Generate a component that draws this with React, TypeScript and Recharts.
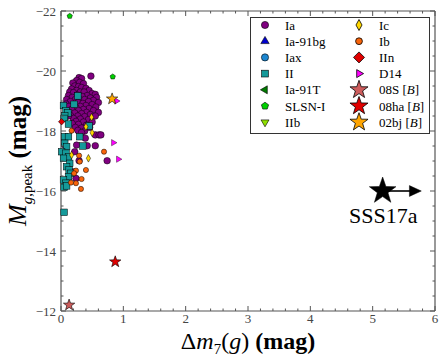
import { ScatterChart, Scatter, XAxis, YAxis, ReferenceLine, ReferenceDot } from 'recharts'

const W = 443
const H = 359
const MARGIN = { top: 11, right: 8, bottom: 0, left: 0 }
const Y_AXIS_W = 61
const X_AXIS_H = 48
const PLOT = { left: Y_AXIS_W, right: W - MARGIN.right, top: MARGIN.top, bottom: H - X_AXIS_H }

const SERIF = '"Liberation Serif", "DejaVu Serif", serif'
const FRAME = '#555'

// axis ticks
const xMajor = [0, 1, 2, 3, 4, 5, 6]
const yMajor = [-22, -20, -18, -16, -14, -12]
const xTicks = Array.from({ length: 31 }, (_, i) => +(i * 0.2).toFixed(1))
const yTicks = Array.from({ length: 21 }, (_, i) => -22 + i * 0.5)

type Pt = [number, number]

// SNe Ia
const iaPts: Pt[] = [
  [0.48, -19.83], [0.29, -19.78], [0.33, -19.75], [0.25, -19.68], [0.19, -19.6], [0.3, -19.62],
  [0.36, -19.58], [0.22, -19.5], [0.28, -19.48], [0.33, -19.45], [0.4, -19.42], [0.17, -19.4],
  [0.45, -19.35], [0.25, -19.35], [0.14, -19.3], [0.2, -19.28], [0.31, -19.3], [0.37, -19.3],
  [0.5, -19.25], [0.55, -19.22], [0.12, -19.18], [0.26, -19.2], [0.42, -19.18], [0.34, -19.15],
  [0.18, -19.12], [0.47, -19.1], [0.57, -19.12], [0.09, -19.05], [0.23, -19.05], [0.3, -19.05],
  [0.38, -19.05], [0.52, -19.02], [0.15, -18.98], [0.44, -18.98], [0.27, -18.95], [0.35, -18.92],
  [0.6, -18.95], [0.08, -18.9], [0.2, -18.88], [0.5, -18.88], [0.4, -18.85], [0.13, -18.82],
  [0.31, -18.82], [0.56, -18.8], [0.24, -18.78], [0.45, -18.75], [0.36, -18.72], [0.17, -18.72],
  [0.28, -18.68], [0.52, -18.68], [0.1, -18.65], [0.41, -18.62], [0.6, -18.62], [0.22, -18.6],
  [0.33, -18.58], [0.47, -18.55], [0.15, -18.52], [0.27, -18.5], [0.38, -18.48], [0.55, -18.5],
  [0.2, -18.42], [0.31, -18.4], [0.44, -18.38], [0.24, -18.32], [0.36, -18.3], [0.5, -18.3],
  [0.18, -18.25], [0.28, -18.22], [0.41, -18.2], [0.23, -18.12], [0.33, -18.1], [0.46, -18.12],
  [0.27, -18.02], [0.38, -18.0], [0.33, -17.95], [0.55, -17.87], [0.61, -17.87], [0.64, -17.87],
  [0.39, -17.76], [0.42, -17.51], [0.55, -17.51], [0.25, -17.53], [0.06, -17.53], [0.22, -17.31],
  [0.29, -17.01], [0.74, -17.01], [0.19, -16.64], [0.24, -16.42], [0.12, -18.5],
]

// SNe II
const iiPts: Pt[] = [
  [0.27, -19.17], [0.21, -18.89], [0.04, -18.85], [0.08, -18.67], [0.11, -18.6], [0.06, -18.5],
  [0.05, -18.42], [0.12, -18.23], [0.45, -18.17], [0.06, -17.81], [0.12, -17.81], [0.3, -17.81],
  [0.35, -17.5], [0.06, -17.59], [0.09, -17.48], [0.01, -17.31], [0.08, -17.26], [0.12, -17.14],
  [0.04, -17.09], [0.14, -16.92], [0.09, -16.81], [0.13, -16.7], [0.16, -16.59], [0.12, -16.48],
  [0.04, -16.37], [0.08, -16.26], [0.05, -16.12], [0.09, -16.17], [0.05, -15.29],
]

// SNe Ib
const ibPts: Pt[] = [
  [0.17, -18.01], [0.69, -17.31], [0.29, -17.18], [0.3, -16.98], [0.4, -16.7], [0.24, -16.68],
  [0.21, -16.59], [0.33, -16.4], [0.24, -16.26], [0.16, -16.28], [0.32, -16.07],
]

// SNe Ic
const icPts: Pt[] = [[0.49, -18.46], [0.4, -18.14], [0.5, -17.94], [0.44, -17.09], [0.17, -17.2]]

const iinPts: Pt[] = [[0.01, -18.31]]
const d14Pts: Pt[] = [[0.89, -19.0], [0.84, -17.61], [0.92, -17.06]]
const slsnPts: Pt[] = [[0.14, -21.83], [0.83, -19.81]]

const sn08S: Pt[] = [[0.13, -12.2]]
const sn08ha: Pt[] = [[0.87, -13.64]]
const sn02bj: Pt[] = [[0.82, -19.07]]

const sss17a: Pt[] = [[5.16, -16.0]]
const sss17aLimit: Pt[] = [[5.78, -16.0]]
const sss17aLabel: Pt = [5.17, -15.2]

const toXY = (pts: Pt[]) => pts.map(([x, y]) => ({ x, y }))

const UNIT: Record<string, number[][]> = {
  up: [[0, -1], [0.87, 0.5], [-0.87, 0.5]],
  down: [[0, 1], [0.87, -0.5], [-0.87, -0.5]],
  left: [[-1, 0], [0.5, -0.87], [0.5, 0.87]],
  right: [[1, 0], [-0.5, -0.87], [-0.5, 0.87]],
  thin: [[0, -1], [0.55, 0], [0, 1], [-0.55, 0]],
  diamond: [[0, -1], [1, 0], [0, 1], [-1, 0]],
  pentagon: [0, 1, 2, 3, 4].map((k) => {
    const a = ((-90 + 72 * k) * Math.PI) / 180
    return [Math.cos(a), Math.sin(a)]
  }),
  star: Array.from({ length: 10 }, (_, k) => {
    const a = ((-90 + 36 * k) * Math.PI) / 180
    const r = k % 2 === 0 ? 1 : 0.4
    return [r * Math.cos(a), r * Math.sin(a)]
  }),
  arrow: [[0, 0], [-2.2, -1], [-2.2, 1]],
}

function Glyph({ kind, cx, cy, s, fill, sw = 0.6 }: { kind: string; cx: number; cy: number; s: number; fill: string; sw?: number }) {
  if (kind === 'circle') return <circle cx={cx} cy={cy} r={s} fill={fill} stroke="#000" strokeWidth={sw} />
  if (kind === 'square')
    return <rect x={cx - s} y={cy - s} width={2 * s} height={2 * s} fill={fill} stroke="#000" strokeWidth={sw} />
  const pts = UNIT[kind].map(([u, v]) => `${cx + u * s},${cy + v * s}`).join(' ')
  return <polygon points={pts} fill={fill} stroke="#000" strokeWidth={sw} strokeLinejoin="miter" />
}

const shape = (kind: string, s: number, fill: string, sw?: number) => (p: any) =>
  <Glyph kind={kind} cx={p.cx} cy={p.cy} s={s} fill={fill} sw={sw} />

function XTick(props: any) {
  const { x, y, payload } = props
  const v = payload.value
  const major = xMajor.some((m) => Math.abs(m - v) < 1e-6)
  const len = major ? 5 : 2.5
  return (
    <g>
      <line x1={x} x2={x} y1={PLOT.bottom} y2={PLOT.bottom - len} stroke={FRAME} strokeWidth={1} />
      <line x1={x} x2={x} y1={PLOT.top} y2={PLOT.top + len} stroke={FRAME} strokeWidth={1} />
      {major && (
        <text x={x} y={y} dy={8} textAnchor="middle" fontFamily={SERIF} fontSize={13} fill="#444">
          {v}
        </text>
      )}
    </g>
  )
}

function YTick(props: any) {
  const { x, y, payload } = props
  const v = payload.value
  const major = yMajor.some((m) => Math.abs(m - v) < 1e-6)
  const len = major ? 5 : 2.5
  return (
    <g>
      <line x1={PLOT.left} x2={PLOT.left + len} y1={y} y2={y} stroke={FRAME} strokeWidth={1} />
      <line x1={PLOT.right} x2={PLOT.right - len} y1={y} y2={y} stroke={FRAME} strokeWidth={1} />
      {major && (
        <text x={x} y={y} dy={4.5} textAnchor="end" fontFamily={SERIF} fontSize={13} fill="#444">
          {'\u2212' + Math.abs(v)}
        </text>
      )}
    </g>
  )
}

const legendLeft = [
  { label: 'Ia', kind: 'circle', s: 3.6, fill: '#800080' },
  { label: 'Ia-91bg', kind: 'up', s: 4.8, fill: '#0000cd' },
  { label: 'Iax', kind: 'circle', s: 3.6, fill: '#1c86d0' },
  { label: 'II', kind: 'square', s: 3.4, fill: '#159a9a' },
  { label: 'Ia-91T', kind: 'left', s: 4.6, fill: '#007a00' },
  { label: 'SLSN-I', kind: 'pentagon', s: 3.8, fill: '#00d000' },
  { label: 'IIb', kind: 'down', s: 4.6, fill: '#8fe000' },
]
const legendRight = [
  { label: 'Ic', kind: 'thin', s: 5.5, fill: '#ffd700' },
  { label: 'Ib', kind: 'circle', s: 3.4, fill: '#f8640a' },
  { label: 'IIn', kind: 'diamond', s: 5.5, fill: '#e00000' },
  { label: 'D14', kind: 'right', s: 4.6, fill: '#ff00ff' },
  { label: '08S', kind: 'star', s: 9.5, fill: '#cd5c5c', b: true },
  { label: '08ha', kind: 'star', s: 9.5, fill: '#e00000', b: true },
  { label: '02bj', kind: 'star', s: 9.5, fill: '#ffa500', b: true },
]

function Overlay() {
  const rowY = (i: number) => 25 + i * 16.2
  return (
    <svg width={W} height={H} style={{ position: 'absolute', left: 0, top: 0, pointerEvents: 'none' }}>
      {/* legend */}
      <rect x={250.5} y={17.5} width={179} height={116} fill="#fff" stroke="#333" strokeWidth={1} />
      {legendLeft.map((e, i) => (
        <g key={e.label}>
          <Glyph kind={e.kind} cx={265} cy={rowY(i)} s={e.s} fill={e.fill} />
          <text x={285} y={rowY(i)} dy={4.5} fontFamily={SERIF} fontSize={13} fill="#000">{e.label}</text>
        </g>
      ))}
      {legendRight.map((e, i) => (
        <g key={e.label}>
          <Glyph kind={e.kind} cx={359} cy={rowY(i)} s={e.s} fill={e.fill} sw={0.8} />
          <text x={379} y={rowY(i)} dy={4.5} fontFamily={SERIF} fontSize={13} fill="#000">
            {e.label}
            {e.b && (
              <>
                {' ['}
                <tspan fontStyle="italic">B</tspan>
                {']'}
              </>
            )}
          </text>
        </g>
      ))}

      {/* axis titles */}
      <text transform="translate(26,161) rotate(-90)" textAnchor="middle" fontFamily={SERIF} fill="#000">
        <tspan fontSize={26} fontStyle="italic">M</tspan>
        <tspan fontSize={15} dy={6}>
          <tspan fontStyle="italic">g</tspan>,peak
        </tspan>
        <tspan fontSize={25} fontWeight="bold" dy={-6}> (mag)</tspan>
      </text>
      <text x={248} y={349} textAnchor="middle" fontFamily={SERIF} fill="#000">
        <tspan fontSize={24}>Δ</tspan>
        <tspan fontSize={24} fontStyle="italic">m</tspan>
        <tspan fontSize={15} dy={5}>7</tspan>
        <tspan fontSize={24} dy={-5}>(</tspan>
        <tspan fontSize={24} fontStyle="italic">g</tspan>
        <tspan fontSize={24}>)</tspan>
        <tspan fontSize={24} fontWeight="bold"> (mag)</tspan>
      </text>
    </svg>
  )
}

export default function App() {
  return (
    <div style={{ position: 'absolute', left: 0, top: 0, width: W, height: H, background: '#fff' }}>
      <ScatterChart width={W} height={H} margin={MARGIN}>
        <XAxis
          type="number"
          dataKey="x"
          domain={[0, 6]}
          ticks={xTicks}
          interval={0}
          tickSize={0}
          tickMargin={4}
          height={X_AXIS_H}
          tick={XTick}
          axisLine={{ stroke: FRAME, strokeWidth: 1.2 }}
        />
        <YAxis
          type="number"
          dataKey="y"
          domain={[-22, -12]}
          reversed
          ticks={yTicks}
          interval={0}
          tickSize={0}
          tickMargin={5}
          width={Y_AXIS_W}
          tick={YTick}
          axisLine={{ stroke: FRAME, strokeWidth: 1.2 }}
        />
        <ReferenceLine y={-22} stroke={FRAME} strokeWidth={1.2} />
        <ReferenceLine x={6} stroke={FRAME} strokeWidth={1.2} />
        <ReferenceLine
          segment={[{ x: sss17a[0][0], y: sss17a[0][1] }, { x: sss17aLimit[0][0] - 0.15, y: sss17aLimit[0][1] }]}
          stroke="#000"
          strokeWidth={1.6}
        />

        <Scatter data={toXY(iaPts)} shape={shape('circle', 3.3, '#800080', 0.5)} isAnimationActive={false} />
        <Scatter data={toXY(iiPts)} shape={shape('square', 3.3, '#159a9a', 0.5)} isAnimationActive={false} />
        <Scatter data={toXY(ibPts)} shape={shape('circle', 2.6, '#f8640a', 0.5)} isAnimationActive={false} />
        <Scatter data={toXY(icPts)} shape={shape('thin', 3.8, '#ffd700', 0.5)} isAnimationActive={false} />
        <Scatter data={toXY(iinPts)} shape={shape('diamond', 3.2, '#e00000', 0.5)} isAnimationActive={false} />
        <Scatter data={toXY(d14Pts)} shape={shape('right', 3.6, '#ff00ff', 0.4)} isAnimationActive={false} />
        <Scatter data={toXY(slsnPts)} shape={shape('pentagon', 2.8, '#00d000', 0.5)} isAnimationActive={false} />
        <Scatter data={toXY(sn08S)} shape={shape('star', 6, '#cd5c5c', 0.6)} isAnimationActive={false} />
        <Scatter data={toXY(sn08ha)} shape={shape('star', 6, '#e00000', 0.6)} isAnimationActive={false} />
        <Scatter data={toXY(sn02bj)} shape={shape('star', 6, '#ffa500', 0.6)} isAnimationActive={false} />
        <Scatter data={toXY(sss17aLimit)} shape={shape('arrow', 5.4, '#000', 0.5)} isAnimationActive={false} />
        <Scatter data={toXY(sss17a)} shape={shape('star', 14, '#000', 0.5)} isAnimationActive={false} />
        <ReferenceDot
          x={sss17aLabel[0]}
          y={sss17aLabel[1]}
          r={0}
          fill="none"
          stroke="none"
          label={{ value: 'SSS17a', position: 'center', fontSize: 22, fontFamily: SERIF, fill: '#000' }}
        />
      </ScatterChart>
      <Overlay />
    </div>
  )
}
